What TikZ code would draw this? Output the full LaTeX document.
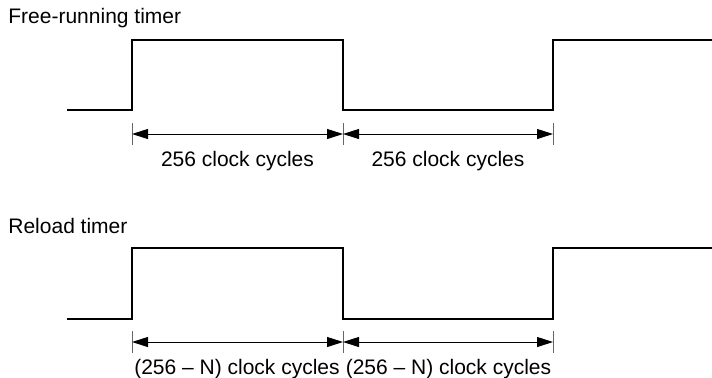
\documentclass[tikz,border=0pt]{standalone}
\usepackage{fontspec}
\setmainfont{Liberation Sans}
\usetikzlibrary{arrows.meta}

\begin{document}
\begin{tikzpicture}[x=0.5pt, y=0.5pt,
    wave/.style={line width=0.8pt},
    dim/.style={line width=0.5pt, {Triangle[length=8pt,width=5pt]}-{Triangle[length=8pt,width=5pt]}},
    tick/.style={line width=0.4pt, black!60},
    lbl/.style={font=\fontsize{10.5pt}{12pt}\selectfont, inner sep=0pt}]
    \useasboundingbox (0, 0) rectangle (712, 377);

    % free-running timer
    \node[lbl, anchor=base west] (freelbl) at (8, 354) {Free-running timer};
    \draw[wave] (67, 267) -- (132, 267) -- (132, 337) -- (343, 337) -- (343, 267) -- (553, 267) -- (553, 337) -- (712, 337);
    \coordinate (fa) at (132, 243);
    \coordinate (fb) at (343, 243);
    \coordinate (fc) at (553, 243);
    \foreach \p in {fa, fb, fc} {
        \draw[tick] ([yshift=-5.5pt]\p) -- ([yshift=5.5pt]\p);
    }
    \draw[dim] (fa) -- (fb);
    \draw[dim] (fb) -- (fc);
    \node[lbl, anchor=base] (fcyc1) at (237.5, 211) {256 clock cycles};
    \node[lbl, anchor=base] (fcyc2) at (448, 211) {256 clock cycles};

    % reload timer
    \node[lbl, anchor=base west] (reloadlbl) at (8, 144) {Reload timer};
    \draw[wave] (67, 58) -- (132, 58) -- (132, 129) -- (343, 129) -- (343, 58) -- (553, 58) -- (553, 129) -- (712, 129);
    \coordinate (ra) at (132, 35);
    \coordinate (rb) at (343, 35);
    \coordinate (rc) at (553, 35);
    \foreach \p in {ra, rb, rc} {
        \draw[tick] ([yshift=-5.5pt]\p) -- ([yshift=5.5pt]\p);
    }
    \draw[dim] (ra) -- (rb);
    \draw[dim] (rb) -- (rc);
    \node[lbl, anchor=base] (rcyc1) at (237, 3) {(256 – N) clock cycles};
    \node[lbl, anchor=base] (rcyc2) at (448.5, 3) {(256 – N) clock cycles};
\end{tikzpicture}
\end{document}
